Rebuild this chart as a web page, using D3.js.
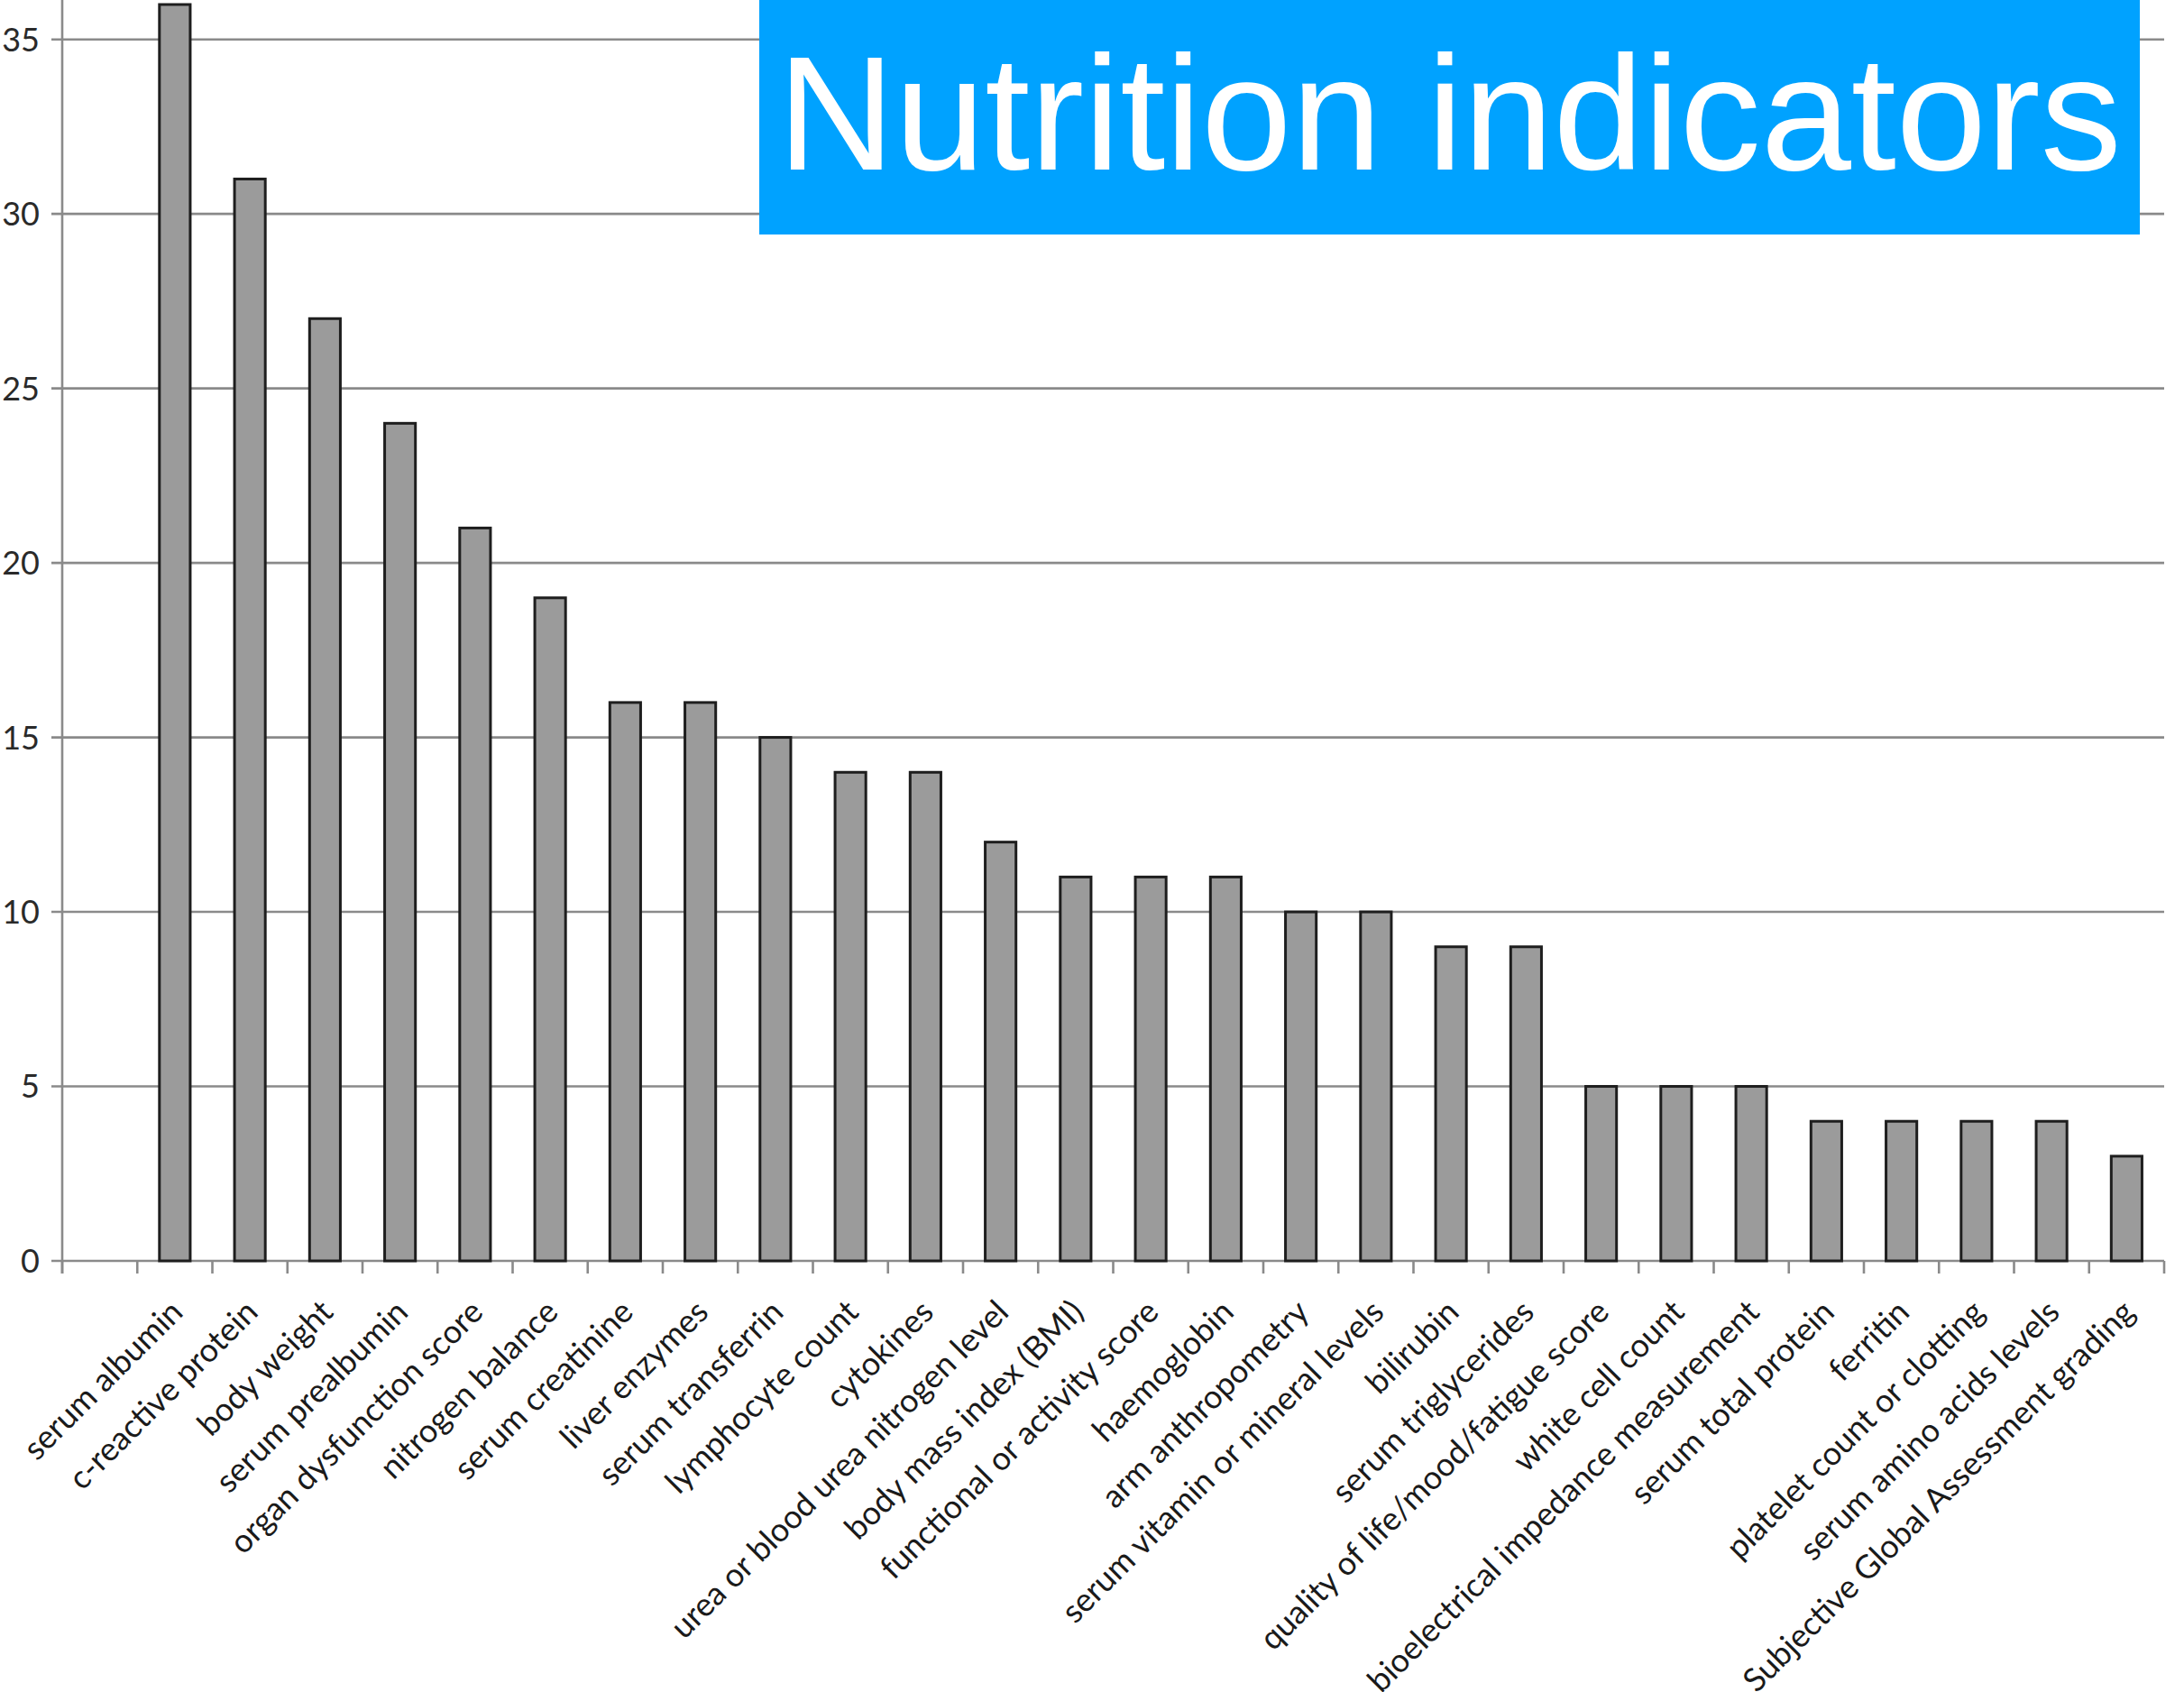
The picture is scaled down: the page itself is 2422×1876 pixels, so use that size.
<!DOCTYPE html>
<html>
<head>
<meta charset="utf-8">
<script src="https://cdn.jsdelivr.net/npm/d3@7"></script>
<style>
  html, body { margin: 0; padding: 0; background: #fff; }
  svg { display: block; }
</style>
</head>
<body>
<script>
// Number of studies using each nutrition indicator
const categories = [
  "serum albumin", "c-reactive protein", "body weight", "serum prealbumin",
  "organ dysfunction score", "nitrogen balance", "serum creatinine", "liver enzymes",
  "serum transferrin", "lymphocyte count", "cytokines", "urea or blood urea nitrogen level",
  "body mass index (BMI)", "functional or activity score", "haemoglobin", "arm anthropometry",
  "serum vitamin or mineral levels", "bilirubin", "serum triglycerides",
  "quality of life/mood/fatigue score", "white cell count", "bioelectrical impedance measurement",
  "serum total protein", "ferritin", "platelet count or clotting", "serum amino acids levels",
  "Subjective Global Assessment grading"
];
const counts = [36, 31, 27, 24, 21, 19, 16, 16, 15, 14, 14, 12, 11, 11, 11, 10, 10, 9, 9, 5, 5, 5, 4, 4, 4, 4, 3];
const yTicks = [0, 5, 10, 15, 20, 25, 30, 35];
const titleText = "Nutrition indicators";

const W = 2422, H = 1876;
const svg = d3.select("body").append("svg").attr("width", W).attr("height", H);

// the axis keeps an empty leading slot before the first category
const slots = ["\u00a0"].concat(categories);
const x = d3.scaleBand().domain(slots).range([69, 2400]).paddingInner(0).paddingOuter(0);
const y = d3.scaleLinear().domain([0, 35]).range([1398, 43.7]);

const gridColor = "#8a8a8a";
const labelFont = "Lato, 'Open Sans', sans-serif";

// horizontal gridlines with left tick stubs
svg.append("g").selectAll("line").data(yTicks).join("line")
  .attr("x1", 57).attr("x2", 2400)
  .attr("y1", d => y(d)).attr("y2", d => y(d))
  .attr("stroke", gridColor).attr("stroke-width", 2.6);

// y tick labels
svg.append("g").selectAll("text").data(yTicks).join("text")
  .attr("x", 44).attr("y", d => y(d))
  .attr("dy", "0.36em")
  .attr("text-anchor", "end")
  .attr("font-family", labelFont).attr("font-size", 36)
  .attr("fill", "#2a2a2a")
  .text(d => d);

// vertical axis line
svg.append("line")
  .attr("x1", 69).attr("x2", 69).attr("y1", 0).attr("y2", y(0) + 14)
  .attr("stroke", gridColor).attr("stroke-width", 2.6);

// category boundary ticks on the x axis
const boundaries = slots.map(s => x(s)).concat([x.range()[1]]);
svg.append("g").selectAll("line").data(boundaries).join("line")
  .attr("x1", d => d).attr("x2", d => d)
  .attr("y1", y(0)).attr("y2", y(0) + 14)
  .attr("stroke", gridColor).attr("stroke-width", 2.6);

// bars
const barW = x.bandwidth() * 0.41;
svg.append("g").selectAll("rect").data(categories).join("rect")
  .attr("x", d => x(d) + (x.bandwidth() - barW) / 2)
  .attr("y", (d, i) => y(counts[i]))
  .attr("width", barW)
  .attr("height", (d, i) => y(0) - y(counts[i]))
  .attr("fill", "#9b9b9b")
  .attr("stroke", "#1e1e1e").attr("stroke-width", 3);

// rotated category labels
svg.append("g").selectAll("text").data(categories).join("text")
  .attr("transform", d => `translate(${x(d) + x.bandwidth() / 2 + 2},${y(0) + 50}) rotate(-45)`)
  .attr("text-anchor", "end")
  .attr("dy", "0.35em")
  .attr("font-family", labelFont).attr("font-size", 36)
  .attr("fill", "#1a1a1a")
  .text(d => d);

// title banner
const banner = svg.append("g");
banner.append("rect")
  .attr("x", 842).attr("y", 0).attr("width", 2373 - 842).attr("height", 260)
  .attr("fill", "#00a2ff");
banner.append("text")
  .attr("x", (842 + 2373) / 2).attr("y", 188)
  .attr("text-anchor", "middle")
  .attr("font-family", "'Liberation Sans', Arial, sans-serif")
  .attr("font-size", 180)
  .attr("fill", "#ffffff")
  .text(titleText);
</script>
</body>
</html>
